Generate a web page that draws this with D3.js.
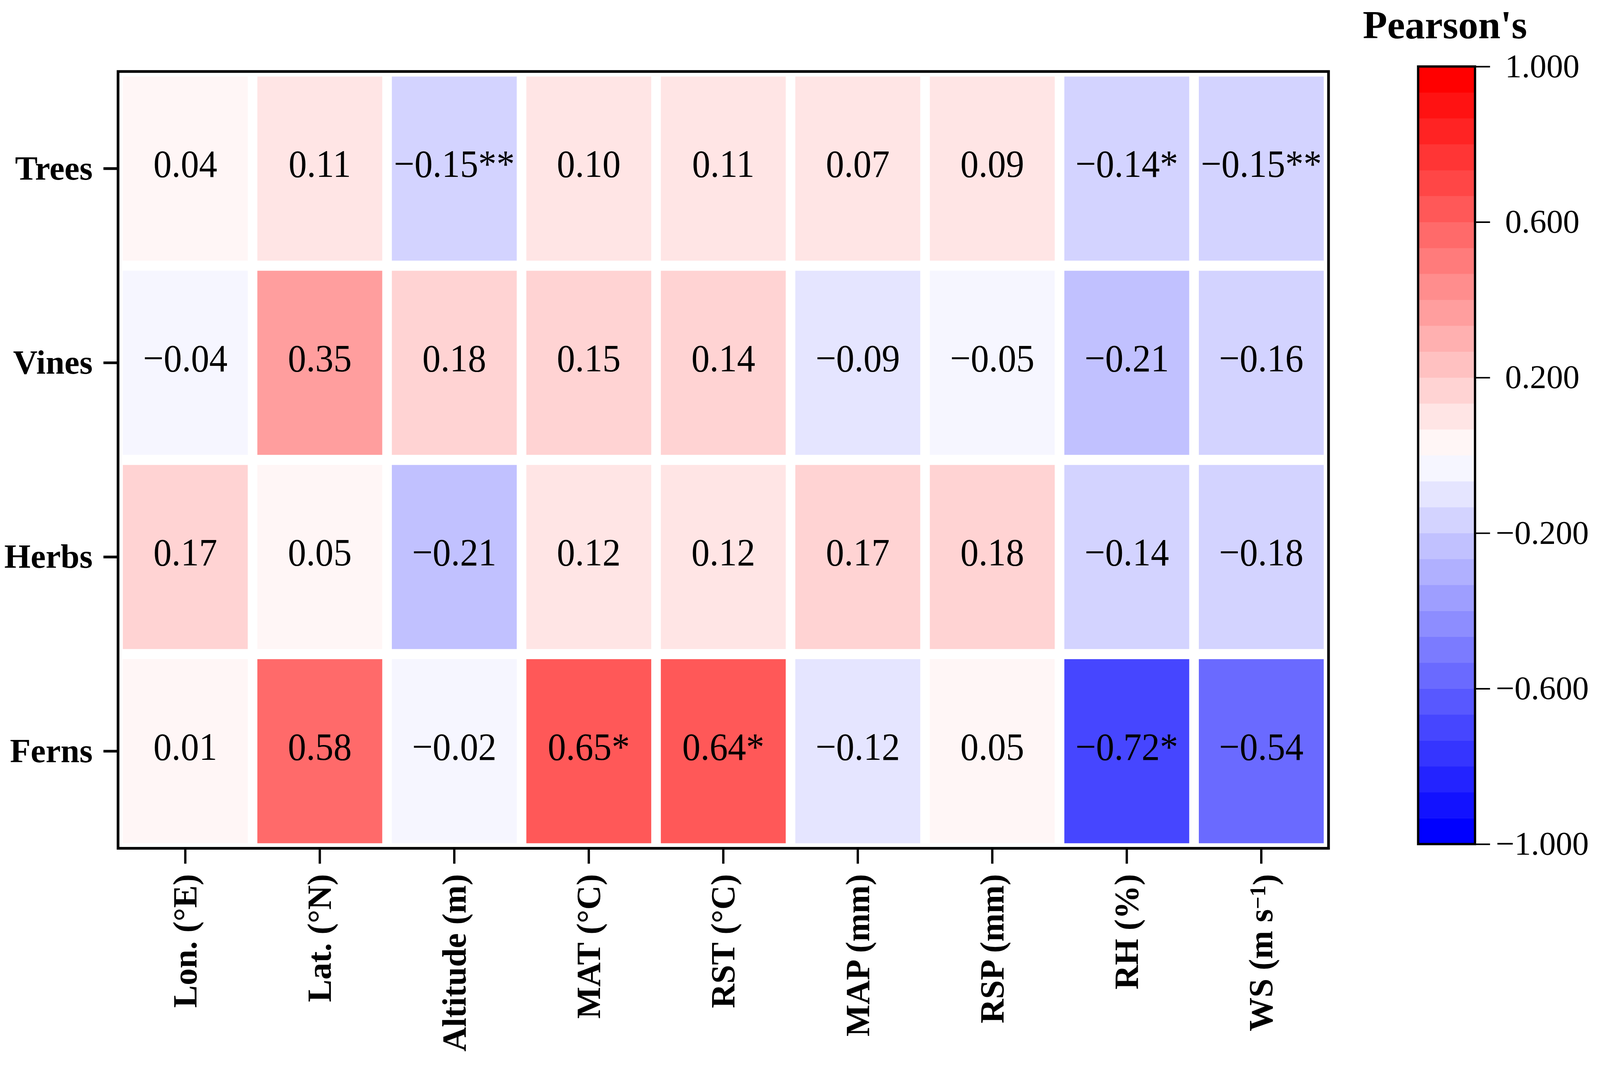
<!DOCTYPE html>
<html>
<head>
<meta charset="utf-8">
<script src="https://cdn.jsdelivr.net/npm/d3@7"></script>
<style>
  html, body { margin: 0; padding: 0; background: #fff; overflow: hidden; }
  #chart svg { display: block; width: 100vw; height: 66.042vw; }
  text { font-family: "Liberation Serif", "Times New Roman", serif; }
</style>
</head>
<body>
<div id="chart"></div>
<script>
// row / column names
var groups = ["Trees", "Vines", "Herbs", "Ferns"];
var factors = ["Lon. (°E)", "Lat. (°N)", "Altitude (m)", "MAT (°C)", "RST (°C)", "MAP (mm)", "RSP (mm)", "RH (%)", "WS (m s-1)"];

// pearson r per group (same order as factors)
var trees = [0.04, 0.11, -0.15, 0.10, 0.11, 0.07, 0.09, -0.14, -0.15];
var vines = [-0.04, 0.35, 0.18, 0.15, 0.14, -0.09, -0.05, -0.21, -0.16];
var herbs = [0.17, 0.05, -0.21, 0.12, 0.12, 0.17, 0.18, -0.14, -0.18];
var ferns = [0.01, 0.58, -0.02, 0.65, 0.64, -0.12, 0.05, -0.72, -0.54];

// significance stars
var treesSig = ["", "", "**", "", "", "", "", "*", "**"];
var vinesSig = ["", "", "", "", "", "", "", "", ""];
var herbsSig = ["", "", "", "", "", "", "", "", ""];
var fernsSig = ["", "", "", "*", "*", "", "", "*", ""];

var colorTicks = [1, 0.6, 0.2, -0.2, -0.6, -1];
var nLevels = 30;

var W = 4161, H = 2748;
var frame = {left: 307, right: 3455, top: 186, bottom: 2207};

// viewBox keeps the drawing fitted to the window width
var svg = d3.select("#chart").append("svg")
    .attr("viewBox", "0 0 " + W + " " + H);

// build cells
var valueRows = [trees, vines, herbs, ferns];
var sigRows = [treesSig, vinesSig, herbsSig, fernsSig];
var cells = [];
groups.forEach(function(g, i) {
    factors.forEach(function(f, j) {
        cells.push({group: g, factor: f, value: valueRows[i][j], sig: sigRows[i][j]});
    });
});

// scales
var x = d3.scaleBand().domain(factors)
    .range([frame.left, frame.right])
    .paddingInner(0.0714).paddingOuter(0.0357);
var y = d3.scaleBand().domain(groups)
    .range([frame.top, frame.bottom])
    .paddingInner(0.052).paddingOuter(0.026);

// 30 discrete levels blue - white - red
var levels = d3.quantize(d3.piecewise(d3.interpolateRgb, ["#0000ff", "#ffffff", "#ff0000"]), nLevels);
var color = d3.scaleQuantize().domain([-1, 1]).range(levels);

var fmt = d3.format(".2f");

// cells
svg.append("g").selectAll("rect")
    .data(cells)
  .enter().append("rect")
    .attr("x", function(d) { return x(d.factor); })
    .attr("y", function(d) { return y(d.group); })
    .attr("width", x.bandwidth())
    .attr("height", y.bandwidth())
    .attr("fill", function(d) { return color(d.value); });

// values, a little narrower than plain Times like the original
svg.append("g").selectAll("text")
    .data(cells)
  .enter().append("text")
    .attr("transform", function(d) {
        return "translate(" + (x(d.factor) + x.bandwidth() / 2) + "," + (y(d.group) + y.bandwidth() / 2 + 22) + ") scale(0.93,1)";
    })
    .attr("text-anchor", "middle")
    .attr("font-size", 102)
    .attr("fill", "#000")
    .text(function(d) { return fmt(d.value) + d.sig; });

// frame
svg.append("rect")
    .attr("x", frame.left)
    .attr("y", frame.top)
    .attr("width", frame.right - frame.left)
    .attr("height", frame.bottom - frame.top)
    .attr("fill", "none")
    .attr("stroke", "#000")
    .attr("stroke-width", 7);

// y axis
var yAxis = svg.append("g")
    .attr("transform", "translate(" + frame.left + ",0)")
    .call(d3.axisLeft(y).tickSize(38).tickPadding(28));
yAxis.select(".domain").remove();
yAxis.selectAll(".tick line").attr("stroke-width", 7);
yAxis.selectAll(".tick text")
    .attr("font-size", 88)
    .attr("font-weight", "bold")
    .attr("font-family", "Liberation Serif")
    .attr("fill", "#000");

// x axis
var xAxis = svg.append("g")
    .attr("transform", "translate(0," + frame.bottom + ")")
    .call(d3.axisBottom(x).tickSize(40));
xAxis.select(".domain").remove();
xAxis.selectAll(".tick line").attr("stroke-width", 6);
xAxis.selectAll(".tick text")
    .attr("font-size", 88)
    .attr("font-weight", "bold")
    .attr("font-family", "Liberation Serif")
    .attr("fill", "#000")
    .attr("text-anchor", "end")
    .attr("transform", "rotate(-90)")
    .attr("x", -67)
    .attr("y", 0)
    .attr("dy", "0.33em")
    .each(function(d) {
        if (d.indexOf("s-1") > -1) {
            var t = d3.select(this).text("WS (m s");
            t.append("tspan").attr("dy", "-0.33em").attr("font-size", 58).text("−1");
            t.append("tspan").attr("dy", "0.33em").text(")");
        }
    });

// colour bar
var cb = {left: 3688, right: 3836, top: 173, bottom: 2196};
var cy = d3.scaleLinear().domain([-1, 1]).range([cb.bottom, cb.top]);
var step = 2 / nLevels;

svg.append("g").selectAll("rect")
    .data(levels)
  .enter().append("rect")
    .attr("x", cb.left)
    .attr("width", cb.right - cb.left)
    .attr("y", function(d, i) { return cy(-1 + (i + 1) * step); })
    .attr("height", function(d, i) { return cy(-1 + i * step) - cy(-1 + (i + 1) * step) + 0.5; })
    .attr("fill", function(d) { return d; });

svg.append("rect")
    .attr("x", cb.left)
    .attr("y", cb.top)
    .attr("width", cb.right - cb.left)
    .attr("height", cb.bottom - cb.top)
    .attr("fill", "none")
    .attr("stroke", "#000")
    .attr("stroke-width", 6);

var cAxis = svg.append("g")
    .attr("transform", "translate(" + (cb.right + 3) + ",0)")
    .call(d3.axisRight(cy).tickValues(colorTicks).tickSize(36).tickFormat(d3.format(".3f")));
cAxis.select(".domain").remove();
cAxis.selectAll(".tick line").attr("stroke-width", 4);
cAxis.selectAll(".tick text")
    .attr("font-size", 86)
    .attr("font-family", "Liberation Serif")
    .attr("fill", "#000")
    .attr("text-anchor", "middle")
    .attr("x", 172);

// title
svg.append("text")
    .attr("x", 3544)
    .attr("y", 100)
    .attr("font-size", 104)
    .attr("font-weight", "bold")
    .text("Pearson's");
</script>
</body>
</html>
